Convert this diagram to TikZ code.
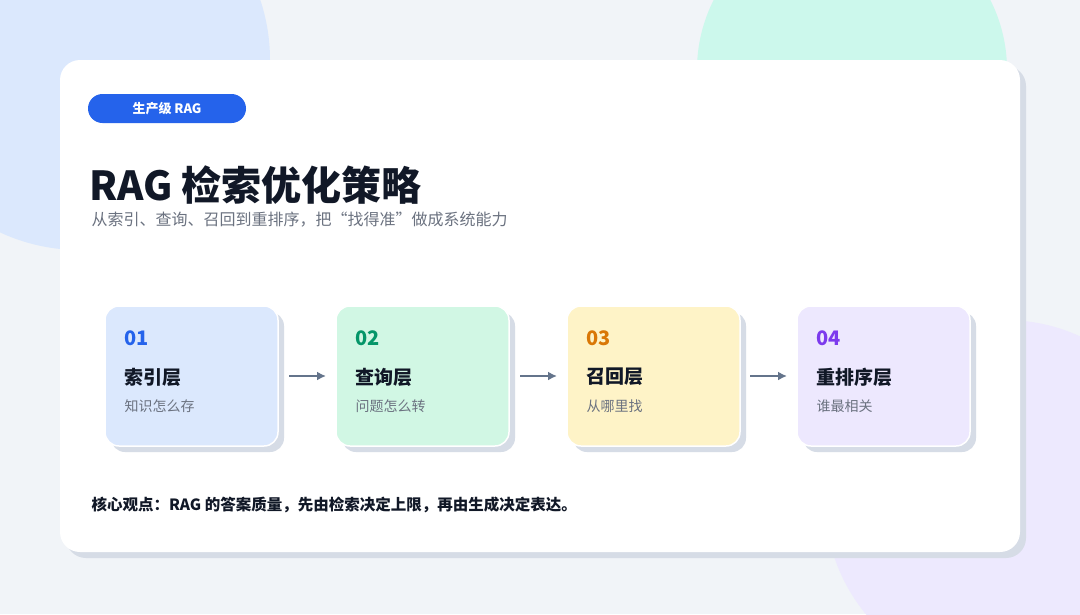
\documentclass[tikz,border=0pt]{standalone}
\usepackage{fontspec}
\setmainfont{Noto Sans CJK SC}
\usetikzlibrary{arrows.meta}
\definecolor{bg}{HTML}{F1F4F8}
\definecolor{ink}{HTML}{111827}
\definecolor{grey}{HTML}{6B7280}
\definecolor{shd}{HTML}{D6DCE6}
\definecolor{arrc}{HTML}{64748B}
\definecolor{pillc}{HTML}{2563EB}
\definecolor{b1}{HTML}{DBE8FD}
\definecolor{b2}{HTML}{CCF8EC}
\definecolor{b3}{HTML}{EDE9FE}
\definecolor{c1}{HTML}{DBE8FD}\definecolor{c2}{HTML}{D1F7E4}
\definecolor{c3}{HTML}{FEF3C7}\definecolor{c4}{HTML}{EDE8FE}
\definecolor{k1}{HTML}{2563EB}\definecolor{k2}{HTML}{059669}
\definecolor{k3}{HTML}{D97706}\definecolor{k4}{HTML}{7C3AED}
\begin{document}
\begin{tikzpicture}[x=1pt,y=-1pt,
 box/.style={rounded corners=14pt,draw=white,line width=1.5pt},
 shadow/.style={rounded corners=14pt,fill=shd},
 arr/.style={draw=arrc,line width=1.8pt,-{Latex[length=9pt,width=9pt]}},
 num/.style={anchor=west,font=\fontsize{20}{22}\selectfont\bfseries},
 ttl/.style={anchor=west,font=\fontsize{19}{22}\selectfont\bfseries,text=ink},
 sub/.style={anchor=west,font=\fontsize{14}{16}\selectfont,text=grey}]
\useasboundingbox (0,0) rectangle (1080,614);
\fill[bg] (0,0) rectangle (1080,614);
\begin{scope}
\clip (0,0) rectangle (1080,614);
\fill[b1] (80,60) circle (190);
\fill[b2] (852,70) circle (155);
\fill[b3] (1005,500) circle (180);
\end{scope}
\fill[shd,rounded corners=20pt] (66,66) rectangle (1026,558);
\fill[white,rounded corners=20pt] (60,60) rectangle (1020,552);
\fill[pillc,rounded corners=14.5pt] (88,94) rectangle (246,123);
\node[text=white,font=\fontsize{13}{14}\selectfont\bfseries] (pill) at (167,109) {生产级 RAG};
\node[anchor=west,font=\fontsize{40}{44}\selectfont\bfseries,text=ink] (title) at (86,185) {RAG 检索优化策略};
\node[anchor=west,font=\fontsize{16}{18}\selectfont,text=grey] (subt) at (88,220) {从索引、查询、召回到重排序，把“找得准”做成系统能力};
\def\card#1#2#3#4#5#6{%
 \fill[shadow] (#1+6,312) rectangle (#1+179,452);
 \filldraw[box,fill=#2] (#1,306) rectangle (#1+173,446);
 \node[num,text=#3] (n#6) at (#1+16,338) {#4};
 \node[ttl] (t#6) at (#1+16,377) {#5};}
\card{105}{c1}{k1}{01}{索引层}{a}
\card{336}{c2}{k2}{02}{查询层}{b}
\card{567}{c3}{k3}{03}{召回层}{c}
\card{797}{c4}{k4}{04}{重排序层}{d}
\node[sub] (sa) at (121,406) {知识怎么存};
\node[sub] (sb) at (352,406) {问题怎么转};
\node[sub] (sc) at (583,406) {从哪里找};
\node[sub] (sd) at (813,406) {谁最相关};
\coordinate (a1) at (289,376); \coordinate (a2) at (326,376);
\coordinate (p1) at (520,376); \coordinate (p2) at (557,376);
\coordinate (q1) at (750,376); \coordinate (q2) at (787,376);
\draw[arr] (a1) -- (a2); \draw[arr] (p1) -- (p2); \draw[arr] (q1) -- (q2);
\node[anchor=west,font=\fontsize{15.5}{17}\selectfont\bfseries,text=ink] (foot) at (88,505) {核心观点：RAG 的答案质量，先由检索决定上限，再由生成决定表达。};
\end{tikzpicture}
\end{document}
